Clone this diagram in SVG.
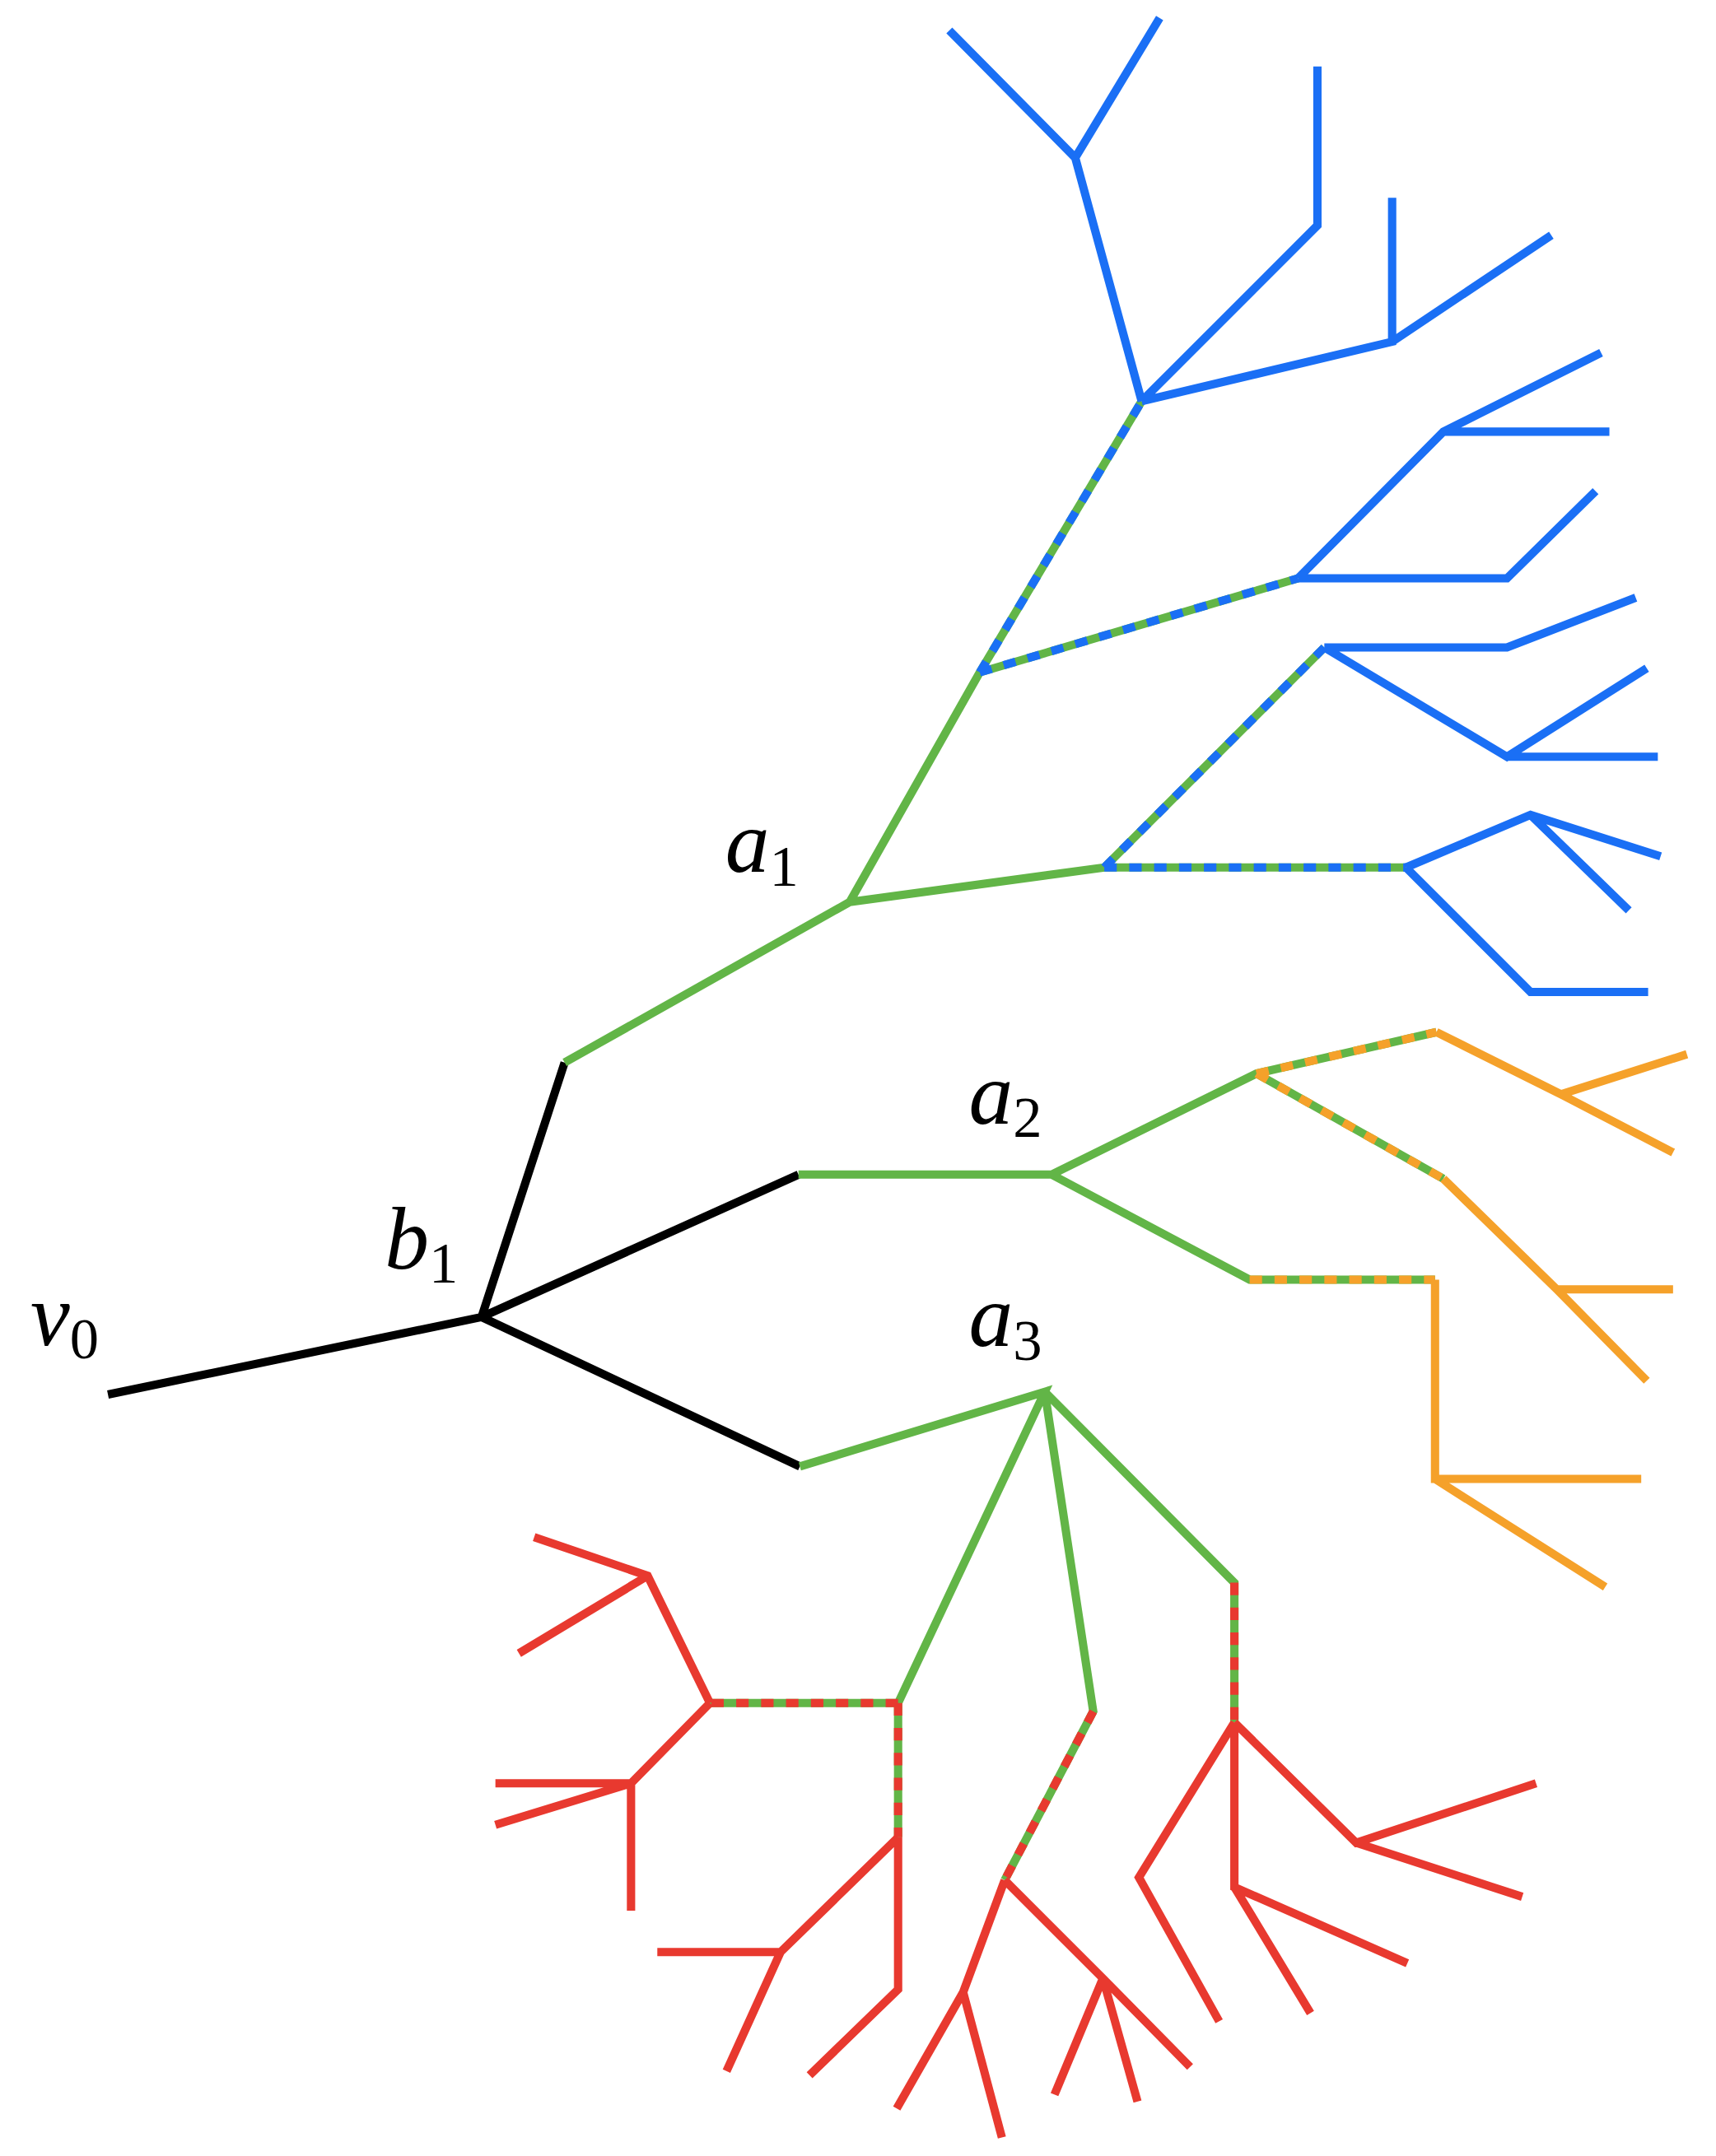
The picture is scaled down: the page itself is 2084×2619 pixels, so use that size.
<svg xmlns="http://www.w3.org/2000/svg" width="2084" height="2619" viewBox="0 0 2084 2619">
<style>
.k{stroke:#000}.g{stroke:#62b547}.b{stroke:#1a6ff5}.o{stroke:#f5a12a}.r{stroke:#e8392f}
path{fill:none;stroke-width:6;stroke-linecap:butt;stroke-linejoin:miter}
.d{stroke-dasharray:9 9}
text{font-family:"Liberation Serif",serif;font-style:italic;font-size:64px;fill:#000}
.s{font-style:normal;font-size:42px}
</style>
<rect width="2084" height="2619" fill="#fff"/>
<g transform="scale(1.6806)">
<g id="connectors">
<path class="k" d="M78,1008L348,952M348,952L408,768M348,952L577,849M348,952L578,1060"/>
<path class="g" d="M408,768L614,652L708,486L825,290M614,652L798,627L1016,627M708,486L938,418M798,627L957,468"/>
<path class="b d" d="M708,486L825,290M708,486L938,418M798,627L957,468M798,627L1016,627"/>
<path class="b" d="M825,290L777,114L686,22M777,114L838,13M825,290L952,163L952,48M825,290L1006,247L1006,143M1006,247L1121,170M938,418L1043,312L1157,255M1043,312L1163,312M938,418L1089,418L1153,355M957,468L1089,468L1182,432M957,468L1089,547L1190,483M1089,547L1198,547M1016,627L1106,589L1200,619M1106,589L1177,658M1016,627L1106,717L1191,717"/>
<path class="g" d="M577,849L760,849L908,776L1038,746M760,849L903,925L1037,925M908,776L1043,852"/>
<path class="o d" d="M908,776L1038,746M908,776L1043,852M903,925L1037,925"/>
<path class="o" d="M1038,746L1128,791L1219,762M1128,791L1209,833M1043,852L1125,932L1209,932M1125,932L1190,998M1037,925L1037,1069L1186,1069M1037,1069L1160,1147"/>
<path class="g" d="M578,1060L755,1006L649,1231L513,1231M649,1231L649,1328M755,1006L790,1237L726,1359M755,1006L892,1144L892,1245"/>
<path class="r d" d="M649,1231L513,1231M649,1231L649,1328M790,1237L726,1359M892,1144L892,1245"/>
<path class="r" d="M513,1231L468,1139L386,1111M468,1139L375,1195M513,1231L456,1289L358,1289M456,1289L358,1319M456,1289L456,1381M649,1328L564,1411L475,1411M564,1411L525,1497M649,1328L649,1438L585,1500M726,1359L696,1440L648,1524M696,1440L724,1545M726,1359L797,1430L860,1494M797,1430L762,1514M797,1430L822,1519M892,1245L823,1357L881,1461M892,1245L980,1332L1110,1289M980,1332L1100,1371M892,1245L892,1364L1017,1419M892,1364L947,1455"/>
</g>
<g id="v0"><text x="22" y="972">v<tspan class="s" dy="10">0</tspan></text></g>
<g id="b1"><text x="278" y="917">b<tspan class="s" dy="10">1</tspan></text></g>
<g id="a1"><text x="524" y="630">a<tspan class="s" dy="10">1</tspan></text></g>
<g id="a2"><text x="700" y="812">a<tspan class="s" dy="10">2</tspan></text></g>
<g id="a3"><text x="700" y="973">a<tspan class="s" dy="10">3</tspan></text></g>
</g>
</svg>
